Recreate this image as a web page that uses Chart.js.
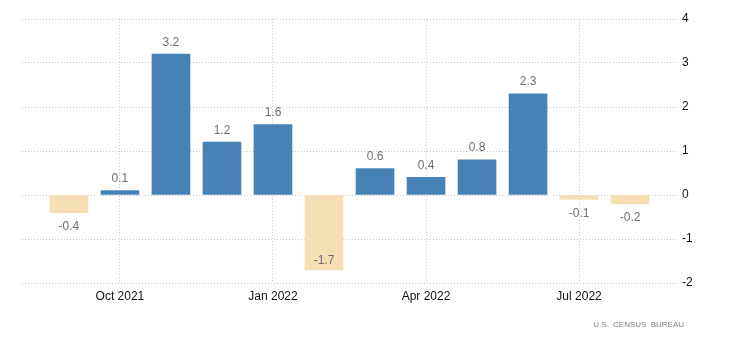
<!DOCTYPE html>
<html>
<head>
<meta charset="utf-8">
<script src="https://cdn.jsdelivr.net/npm/chart.js@4/dist/chart.umd.min.js"></script>
<style>
  html, body { margin: 0; padding: 0; background: #fff; }
  #wrap { position: relative; width: 730px; height: 349px; }
  #source { position: absolute; right: 46px; top: 320px; font: 8px Arial, "Liberation Sans", sans-serif; color: #808080; letter-spacing: 0; word-spacing: 2px; }
</style>
</head>
<body>
<div id="wrap">
  <canvas id="myChart" width="730" height="349"></canvas>
  <div id="source">U.S. CENSUS BUREAU</div>
</div>
<script>
// monthly change, Sep 2021 - Aug 2022
const months = ['Sep 2021', 'Oct 2021', 'Nov 2021', 'Dec 2021', 'Jan 2022', 'Feb 2022',
                'Mar 2022', 'Apr 2022', 'May 2022', 'Jun 2022', 'Jul 2022', 'Aug 2022'];
const values = [-0.4, 0.1, 3.2, 1.2, 1.6, -1.7, 0.6, 0.4, 0.8, 2.3, -0.1, -0.2];
const tickLabels = ['Oct 2021', 'Jan 2022', 'Apr 2022', 'Jul 2022'];
const yTicks = [-2, -1, 0, 1, 2, 3, 4];

const tickIndex = tickLabels.map(l => months.indexOf(l));

const barLabels = {
    id: 'barLabels',
    afterDatasetsDraw(chart) {
        const ctx = chart.ctx;
        const meta = chart.getDatasetMeta(0);
        const area = chart.chartArea;
        ctx.save();
        ctx.font = '12px Arial, "Liberation Sans", sans-serif';
        ctx.fillStyle = '#707070';
        ctx.textAlign = 'center';
        ctx.textBaseline = 'middle';
        meta.data.forEach((bar, i) => {
            const v = values[i];
            let y;
            if (v >= 0) {
                y = bar.y - 12;
            } else {
                y = Math.min(bar.y + 14, area.bottom - 22);
            }
            ctx.fillText(v.toFixed(1), bar.x, y);
        });
        ctx.restore();
    }
};

const ctx = document.getElementById('myChart').getContext('2d');
const myChart = new Chart(ctx, {
    type: 'bar',
    data: {
        datasets: [{
            data: values.map((v, i) => ({ x: i, y: v })),
            backgroundColor: values.map(v => v >= 0 ? '#4682b4' : '#f5deb3'),
            barThickness: 38
        }]
    },
    options: {
        responsive: false,
        animation: false,
        layout: { padding: { left: 22, top: 19, right: 0, bottom: 0 } },
        plugins: {
            legend: { display: false },
            tooltip: { enabled: false }
        },
        scales: {
            x: {
                type: 'linear',
                offset: false,
                min: -0.92,
                max: 11.92,
                afterBuildTicks: scale => {
                    scale.ticks = tickIndex.map(v => ({ value: v }));
                },
                afterFit: scale => { scale.height = 66; },
                ticks: {
                    autoSkip: false,
                    maxRotation: 0,
                    padding: 6,
                    color: '#111',
                    font: { family: 'Arial, "Liberation Sans", sans-serif', size: 12 },
                    callback: v => months[v]
                },
                grid: {
                    offset: false,
                    color: '#c8c8c8',
                    drawTicks: false
                },
                border: { display: false, dash: [1, 2] }
            },
            y: {
                position: 'right',
                min: -2,
                max: 4,
                afterBuildTicks: scale => {
                    scale.ticks = yTicks.map(v => ({ value: v }));
                },
                afterFit: scale => { scale.width = 53; },
                ticks: {
                    padding: 5,
                    color: '#111',
                    font: { family: 'Arial, "Liberation Sans", sans-serif', size: 12 }
                },
                grid: {
                    color: '#c8c8c8',
                    drawTicks: false
                },
                border: { display: false, dash: [1, 2] }
            }
        }
    },
    plugins: [barLabels]
});
</script>
</body>
</html>
